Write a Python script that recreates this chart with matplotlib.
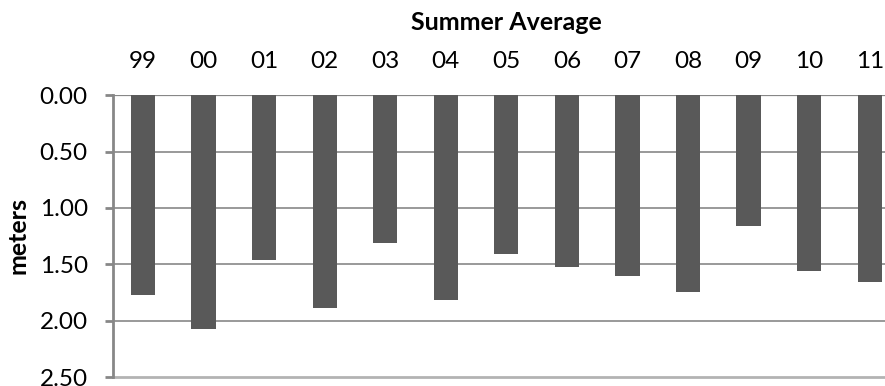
import matplotlib
matplotlib.use("Agg")
import matplotlib.pyplot as plt
import numpy as np

years = ["99", "00", "01", "02", "03", "04", "05", "06", "07", "08", "09", "10", "11"]
depth_m = [1.77, 2.07, 1.46, 1.89, 1.31, 1.82, 1.41, 1.52, 1.60, 1.75, 1.16, 1.56, 1.66]
y_ticks = [0.0, 0.5, 1.0, 1.5, 2.0, 2.5]

plt.rcParams["font.family"] = ["Lato", "DejaVu Sans"]

W, H = 885, 386
fig = plt.figure(figsize=(W / 100, H / 100), dpi=100)
left, right, top, bottom = 112.7, 900.0, 95.3, 377.0
ax = fig.add_axes([left / W, (H - bottom) / H, (right - left) / W, (bottom - top) / H])

x = np.arange(len(years))
ax.bar(x, depth_m, width=0.4, color="#595959", zorder=3)

ax.set_xlim(-0.5, len(years) - 0.5)
ax.set_ylim(2.5, 0.0)
ax.set_yticks(y_ticks)
ax.set_yticklabels([f"{v:.2f}" for v in y_ticks], fontsize=17.5)
ax.xaxis.tick_top()
ax.set_xticks(x)
ax.set_xticklabels(years, fontsize=17.5)
ax.tick_params(axis="x", length=0, pad=17)
ax.tick_params(axis="y", length=6, width=2, color="#878787", pad=12)

for v in y_ticks[:-1]:
    ax.axhline(v, color="#878787", lw=1.6 if v == 0 else 1.2, zorder=1)

for s in ["right", "top", "bottom"]:
    ax.spines[s].set_visible(False)
ax.axhline(2.5, color="#B3B3B3", lw=2, zorder=1, clip_on=False)
ax.spines["left"].set_color("#878787")
ax.spines["left"].set_linewidth(2)
ax.spines["left"].set_zorder(4)

fig.text(506 / W, 1 - 23 / H, "Summer Average", ha="center", va="center",
         fontsize=18, fontweight="bold")
fig.text(18 / W, 1 - 236 / H, "meters", ha="center", va="center",
         rotation=90, fontsize=18, fontweight="bold")

fig.savefig("out.png", dpi=100)
